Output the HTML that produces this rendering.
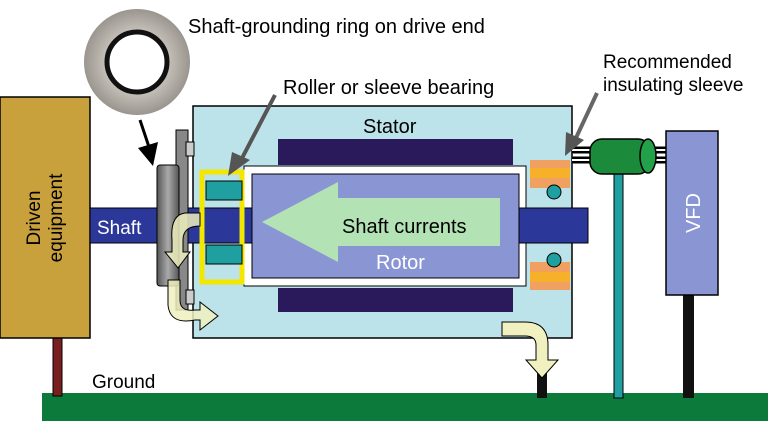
<!DOCTYPE html><html><head><style>body{margin:0;background:#fff}svg{display:block}</style></head><body>
<svg width="768" height="432" viewBox="0 0 768 432" xmlns="http://www.w3.org/2000/svg" font-family="Liberation Sans, sans-serif">
<defs><radialGradient id="rg"><stop offset="0.55" stop-color="#c9c4bc"/><stop offset="1" stop-color="#9a958e"/></radialGradient>
<linearGradient id="gg" x1="0" x2="1"><stop offset="0" stop-color="#555"/><stop offset="0.5" stop-color="#aaa"/><stop offset="1" stop-color="#555"/></linearGradient></defs>
<rect x="42" y="393" width="726" height="28" fill="#0b7a3b"/>
<rect x="53" y="336" width="9" height="60" fill="#7a1f1f" stroke="#000"/>
<rect x="0" y="97" width="90" height="241" fill="#c9a13c" stroke="#000" stroke-width="1.5"/>
<text transform="translate(40,218) rotate(-90)" font-size="19" text-anchor="middle" fill="#000">Driven</text>
<text transform="translate(62,218) rotate(-90)" font-size="19" text-anchor="middle" fill="#000">equipment</text>
<text x="92" y="388" font-size="19">Ground</text>
<rect x="193" y="106" width="379" height="232" fill="#bde3ea" stroke="#000" stroke-width="1.5"/>
<rect x="278" y="139" width="235" height="26" fill="#2a1a5c"/>
<rect x="278" y="288" width="235" height="24" fill="#2a1a5c"/>
<rect x="244" y="166" width="282" height="120" fill="#fff" stroke="#000"/>
<rect x="90" y="208" width="498" height="35" fill="#2b3899" stroke="#000"/>
<rect x="252" y="174" width="267" height="104" fill="#8a95d4" stroke="#000"/>
<polygon points="262,222 338,182 338,198 500,198 500,246 338,246 338,262" fill="#b3e2b5"/>
<text x="342" y="233" font-size="20">Shaft currents</text>
<text x="376" y="269" font-size="20" fill="#fff">Rotor</text>
<text x="97" y="234" font-size="19" fill="#fff">Shaft</text>
<rect x="202" y="172" width="40" height="110" fill="none" stroke="#f3e600" stroke-width="5"/>
<rect x="206" y="181" width="36" height="19" fill="#1f9f9f" stroke="#000"/>
<rect x="206" y="245" width="36" height="19" fill="#1f9f9f" stroke="#000"/>
<rect x="176" y="130" width="12" height="180" fill="#888" stroke="#000"/>
<rect x="186" y="142" width="8" height="14" fill="#ccc" stroke="#000"/>
<rect x="186" y="290" width="8" height="14" fill="#ccc" stroke="#000"/>
<rect x="157" y="165" width="22" height="121" rx="3" fill="url(#gg)" stroke="#000"/>
<path d="M200,213 L185,213 Q170,215 172,240 L172,252 L165,252 L178,268 L190,252 L183,252 L183,240 Q183,226 200,226 Z" fill="#f0f0c0" fill-opacity="0.85" stroke="#000"/>
<path d="M168,280 L168,305 Q170,325 195,320 L200,320 L200,330 L218,316 L200,302 L200,310 L195,310 Q180,312 180,300 L180,280 Z" fill="#f0f0c0" fill-opacity="0.85" stroke="#000"/>
<rect x="530" y="160" width="40" height="28" fill="#f0a060"/><rect x="530" y="168" width="40" height="10" fill="#f6b02a"/>
<rect x="530" y="262" width="40" height="28" fill="#f0a060"/><rect x="530" y="272" width="40" height="10" fill="#f6b02a"/>
<circle cx="554" cy="192" r="7" fill="#1f9f9f" stroke="#000"/>
<circle cx="554" cy="260" r="7" fill="#1f9f9f" stroke="#000"/>
<line x1="572" y1="150" x2="592" y2="150" stroke="#000" stroke-width="7"/><line x1="572" y1="150" x2="592" y2="150" stroke="#fff" stroke-width="2"/>
<line x1="572" y1="160" x2="592" y2="160" stroke="#000" stroke-width="7"/><line x1="572" y1="160" x2="592" y2="160" stroke="#fff" stroke-width="2"/>
<line x1="652" y1="150" x2="668" y2="150" stroke="#000" stroke-width="7"/><line x1="652" y1="150" x2="668" y2="150" stroke="#fff" stroke-width="2"/>
<line x1="652" y1="160" x2="668" y2="160" stroke="#000" stroke-width="7"/><line x1="652" y1="160" x2="668" y2="160" stroke="#fff" stroke-width="2"/>
<rect x="614" y="172" width="9" height="226" fill="#1f9f9f" stroke="#000"/>
<rect x="590" y="139" width="60" height="35" rx="12" fill="#1b8a3a" stroke="#000" stroke-width="1.5"/>
<ellipse cx="648" cy="156" rx="8" ry="17" fill="#22a04a" stroke="#000" stroke-width="1.5"/>
<rect x="683" y="294" width="11" height="104" fill="#111"/>
<rect x="666" y="131" width="52" height="164" fill="#8a95d4" stroke="#000" stroke-width="1.5"/>
<text transform="translate(700,213) rotate(-90)" font-size="20" text-anchor="middle" fill="#fff">VFD</text>
<rect x="537" y="340" width="10" height="58" fill="#111"/>
<path d="M502,322 L525,322 Q548,322 548,345 L548,360 L558,360 L542,378 L526,360 L536,360 L536,345 Q536,336 525,336 L502,336 Z" fill="#f0f0c0" stroke="#000"/>
<circle cx="137" cy="62" r="53" fill="url(#rg)"/>
<circle cx="137" cy="62" r="30" fill="#fff" stroke="#111" stroke-width="5"/>
<text x="188" y="33" font-size="20">Shaft-grounding ring on drive end</text>
<text x="283" y="94" font-size="20">Roller or sleeve bearing</text>
<text x="363" y="133" font-size="20">Stator</text>
<text x="603" y="68" font-size="19">Recommended</text>
<text x="603" y="91" font-size="19">insulating sleeve</text>
<line x1="140" y1="120" x2="150" y2="150" stroke="#000" stroke-width="3"/>
<polygon points="138,148 158,142 153,166" fill="#000"/>
<line x1="275" y1="95" x2="240" y2="162" stroke="#555" stroke-width="4"/>
<polygon points="228,176 232,152 250,160" fill="#555"/>
<line x1="597" y1="93" x2="575" y2="140" stroke="#666" stroke-width="4"/>
<polygon points="565,156 566,132 584,140" fill="#555"/>
</svg></body></html>
